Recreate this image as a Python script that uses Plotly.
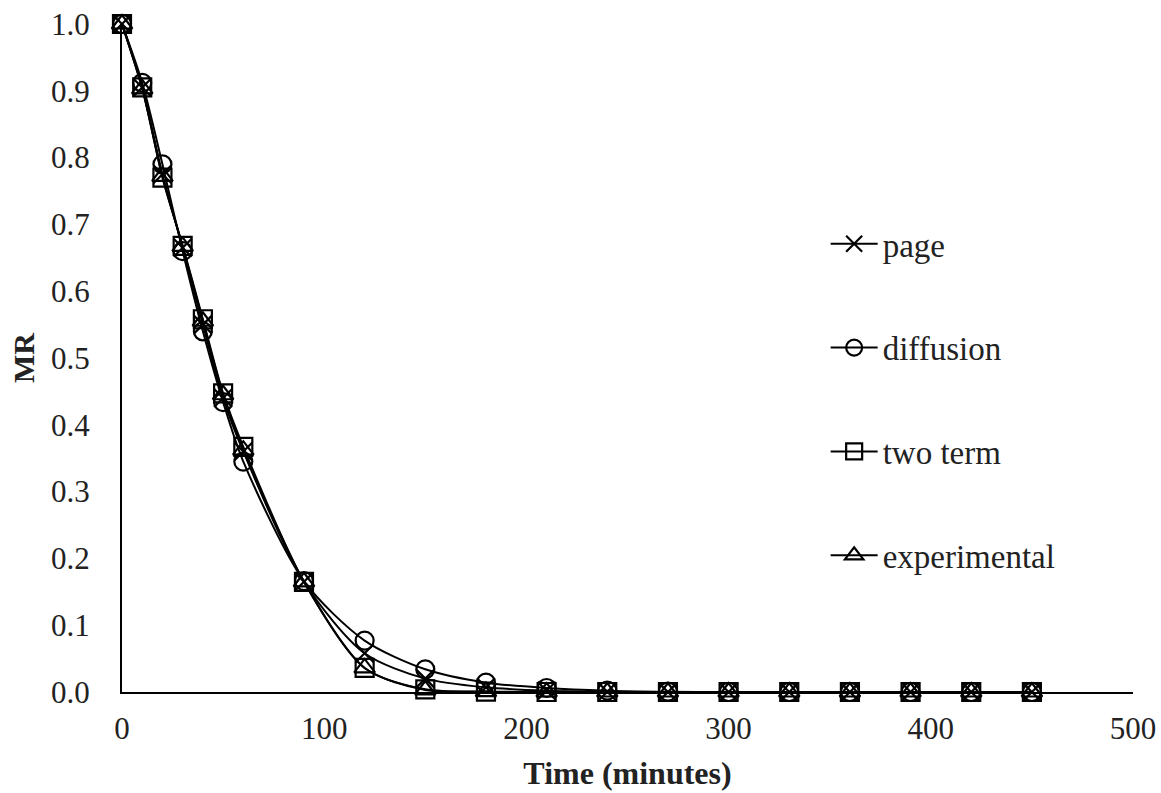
import plotly.graph_objects as go

# Drying time (minutes)
time_min = [0, 10, 20, 30, 40, 50, 60, 90, 120, 150, 180, 210, 240, 270, 300, 330, 360, 390, 420, 450]

# Moisture ratio for each model and the measured data
mr_page = [1.0, 0.905, 0.775, 0.665, 0.55, 0.44, 0.36, 0.165, 0.058, 0.02, 0.007, 0.002, 0.0005, 0, 0, 0, 0, 0, 0, 0]
mr_diffusion = [1.0, 0.912, 0.79, 0.66, 0.54, 0.434, 0.345, 0.166, 0.077, 0.034, 0.014, 0.006, 0.002, 0.0005, 0, 0, 0, 0, 0, 0]
mr_two_term = [1.0, 0.905, 0.77, 0.668, 0.558, 0.447, 0.367, 0.165, 0.036, 0.004, 0.0005, 0, 0, 0, 0, 0, 0, 0, 0, 0]
mr_experimental = [1.0, 0.903, 0.772, 0.667, 0.555, 0.445, 0.362, 0.165, 0.036, 0.003, 0.0005, 0, 0, 0, 0, 0, 0, 0, 0, 0]

series = [
    ("page", mr_page, "x-thin-open"),
    ("diffusion", mr_diffusion, "circle-open"),
    ("two term", mr_two_term, "square-open"),
    ("experimental", mr_experimental, "triangle-up-open"),
]

FONT = "Liberation Serif, Times New Roman, serif"

fig = go.Figure()
for i, (name, vals, sym) in enumerate(series):
    fig.add_trace(go.Scatter(
        x=time_min, y=vals, name=name, mode="lines+markers",
        legendgroup=f"g{i}", cliponaxis=False,
        line=dict(color="black", width=2, shape="spline", smoothing=0.8),
        marker=dict(symbol=sym, size=18, color="black",
                    line=dict(color="black", width=2.2)),
    ))

fig.update_layout(
    width=1161, height=793,
    margin=dict(l=122, r=28, t=24, b=101),
    paper_bgcolor="white", plot_bgcolor="white",
    font=dict(family=FONT, size=30, color="#222"),
    showlegend=True,
    legend=dict(x=0.696, y=0.713, xanchor="left", yanchor="top",
                bgcolor="rgba(0,0,0,0)", tracegroupgap=58,
                font=dict(family=FONT, size=33, color="#222"),
                itemwidth=47),
    xaxis=dict(range=[0, 500], dtick=100, showgrid=False, zeroline=False,
               showline=True, linecolor="black", linewidth=2, ticks="",
               tickfont=dict(size=31), ticklabelstandoff=8, automargin=False,
               title=dict(text="<b>Time (minutes)</b>", font=dict(size=32), standoff=16)),
    yaxis=dict(range=[0, 1.0], dtick=0.1, tickformat=".1f", showgrid=False,
               zeroline=False, showline=True, linecolor="black", linewidth=2,
               ticks="", tickfont=dict(size=31), ticklabelstandoff=24,
               automargin=False,
               title=dict(text="<b>MR</b>", font=dict(size=30), standoff=8)),
)

fig.write_html("out.html")
